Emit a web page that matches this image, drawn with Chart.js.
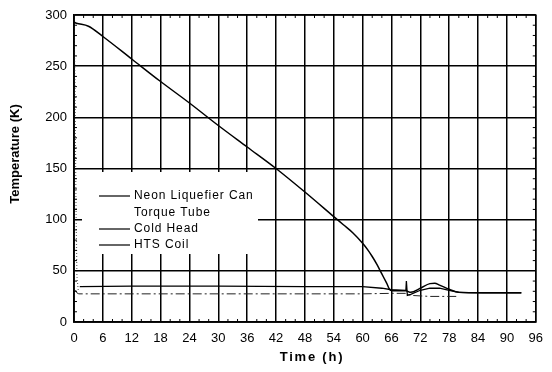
<!DOCTYPE html>
<html>
<head>
<meta charset="utf-8">
<script src="https://cdn.jsdelivr.net/npm/chart.js@4.4.0/dist/chart.umd.min.js"></script>
<style>
  html, body { margin: 0; padding: 0; background: #fff; }
  #wrap { width: 552px; height: 372px; }
</style>
</head>
<body>
<div id="wrap"><canvas id="tempChart" width="552" height="372"></canvas></div>
<script>
// 축 눈금
const xTicks = [0, 6, 12, 18, 24, 30, 36, 42, 48, 54, 60, 66, 72, 78, 84, 90, 96];
const yTicks = [0, 50, 100, 150, 200, 250, 300];
const xTitle = 'Time (h)';
const yTitle = 'Temperature (K)';

// 계열 (시간 h, 온도 K) - 그림에서 읽은 값
const neonTime = [0, 0.5, 3, 6, 12, 18, 24, 30, 36, 42, 48, 54, 56, 58, 60, 61, 62, 63, 64, 65, 65.8, 67, 69, 70, 72, 74, 75, 76, 78, 80, 85, 90, 93];
const neonTemp = [293, 292, 289, 279, 257, 235, 214, 192, 171, 150, 127, 103, 95, 87, 77, 71, 64, 56, 47, 38, 31, 30.5, 30.5, 29, 33, 37.5, 37.8, 36, 32, 29, 28.5, 28.5, 28.5];

const torqueTime = [0, 0.2, 0.4, 0.6, 0.9];
const torqueTemp = [296, 230, 120, 45, 30];

const coldTime = [1.2, 12, 30, 48, 60, 64, 66, 69, 69.1, 69.3, 70, 72, 74, 76, 78, 80, 85, 93];
const coldTemp = [34.5, 35, 35, 34.5, 34.5, 33, 31.5, 31, 40, 26, 27, 31, 33, 33, 31, 29, 28.5, 28.5];

const htsTime = [0.3, 0.6, 1, 12, 30, 48, 60, 66, 69, 70, 74, 79.5];
const htsTemp = [31, 28.5, 27.5, 27.5, 27.5, 27.5, 27.5, 28, 28, 26, 25, 25];

const legendLabels = ['Neon Liquefier Can', 'Torque Tube', 'Cold Head', 'HTS Coil'];

function toPoints(xs, ys) {
  return xs.map((x, i) => ({ x: x, y: ys[i] }));
}

// 범례를 그래프 안쪽에 그리기
const innerLegend = {
  id: 'innerLegend',
  afterDatasetsDraw(chart) {
    const ctx = chart.ctx;
    ctx.save();
    ctx.fillStyle = '#fff';
    ctx.fillRect(82, 172, 176, 82);
    const rows = [196, 213, 229, 245];
    ctx.font = '12px "Liberation Sans", Arial, sans-serif';
    ctx.letterSpacing = '0.9px';
    ctx.textBaseline = 'middle';
    ctx.fillStyle = '#000';
    legendLabels.forEach((label, i) => {
      if (i !== 1) {
        ctx.strokeStyle = '#000';
        ctx.lineWidth = 1.2;
        ctx.beginPath();
        ctx.moveTo(99, rows[i]);
        ctx.lineTo(130, rows[i]);
        ctx.stroke();
      }
      ctx.fillText(label, 134, rows[i]);
    });
    ctx.restore();
  }
};

// 테두리, 보조 눈금, 축 제목
const frame = {
  id: 'frame',
  afterDraw(chart) {
    const ctx = chart.ctx;
    const a = chart.chartArea;
    const xs = chart.scales.x;
    const ys = chart.scales.y;
    ctx.save();
    ctx.strokeStyle = '#000';
    ctx.lineWidth = 1.5;
    ctx.strokeRect(a.left, a.top, a.right - a.left, a.bottom - a.top);
    ctx.lineWidth = 1;
    ctx.beginPath();
    for (let v = 2; v < 96; v += 2) {
      if (v % 6 === 0) continue;
      const px = xs.getPixelForValue(v);
      ctx.moveTo(px, a.bottom); ctx.lineTo(px, a.bottom - 3);
      ctx.moveTo(px, a.top); ctx.lineTo(px, a.top + 3);
    }
    for (let v = 10; v < 300; v += 10) {
      if (v % 50 === 0) continue;
      const py = ys.getPixelForValue(v);
      ctx.moveTo(a.left, py); ctx.lineTo(a.left + 3, py);
      ctx.moveTo(a.right, py); ctx.lineTo(a.right - 3, py);
    }
    ctx.stroke();

    ctx.fillStyle = '#000';
    ctx.font = 'bold 13px "Liberation Sans", Arial, sans-serif';
    ctx.textAlign = 'center';
    ctx.textBaseline = 'middle';
    ctx.letterSpacing = '1.8px';
    ctx.fillText(xTitle, 312, 357);
    ctx.letterSpacing = '0px';
    ctx.translate(15, 154);
    ctx.rotate(-Math.PI / 2);
    ctx.fillText(yTitle, 0, 0);
    ctx.restore();
  }
};

const tickFont = { family: '"Liberation Sans", Arial, sans-serif', size: 13 };

const ctx = document.getElementById('tempChart').getContext('2d');
new Chart(ctx, {
  type: 'line',
  data: {
    datasets: [{
      label: legendLabels[0],
      data: toPoints(neonTime, neonTemp),
      borderColor: '#000',
      borderWidth: 1.5,
      cubicInterpolationMode: 'monotone'
    }, {
      label: legendLabels[1],
      data: toPoints(torqueTime, torqueTemp),
      borderColor: '#666',
      borderWidth: 1.2,
      borderDash: [1, 2]
    }, {
      label: legendLabels[2],
      data: toPoints(coldTime, coldTemp),
      borderColor: '#000',
      borderWidth: 1.3
    }, {
      label: legendLabels[3],
      data: toPoints(htsTime, htsTemp),
      borderColor: '#222',
      borderWidth: 1,
      borderDash: [9, 3, 2, 3]
    }]
  },
  options: {
    responsive: false,
    animation: false,
    elements: { point: { radius: 0 } },
    layout: { padding: { top: 15, right: 7, left: 0, bottom: 0 } },
    plugins: {
      legend: { display: false },
      tooltip: { enabled: false }
    },
    scales: {
      x: {
        type: 'linear',
        min: 0,
        max: 96,
        afterBuildTicks: s => { s.ticks = xTicks.map(v => ({ value: v })); },
        afterFit: s => { s.height = 50; },
        grid: { color: '#000', lineWidth: 1.5, drawTicks: false },
        border: { color: '#000', width: 1.5 },
        ticks: { color: '#000', font: tickFont, padding: 9, maxRotation: 0, autoSkip: false }
      },
      y: {
        min: 0,
        max: 300,
        afterBuildTicks: s => { s.ticks = yTicks.map(v => ({ value: v })); },
        afterFit: s => { s.width = 74; },
        grid: { color: '#000', lineWidth: 1.5, drawTicks: false },
        border: { color: '#000', width: 1.5 },
        ticks: { color: '#000', font: tickFont, padding: 7 }
      }
    }
  },
  plugins: [innerLegend, frame]
});
</script>
</body>
</html>
